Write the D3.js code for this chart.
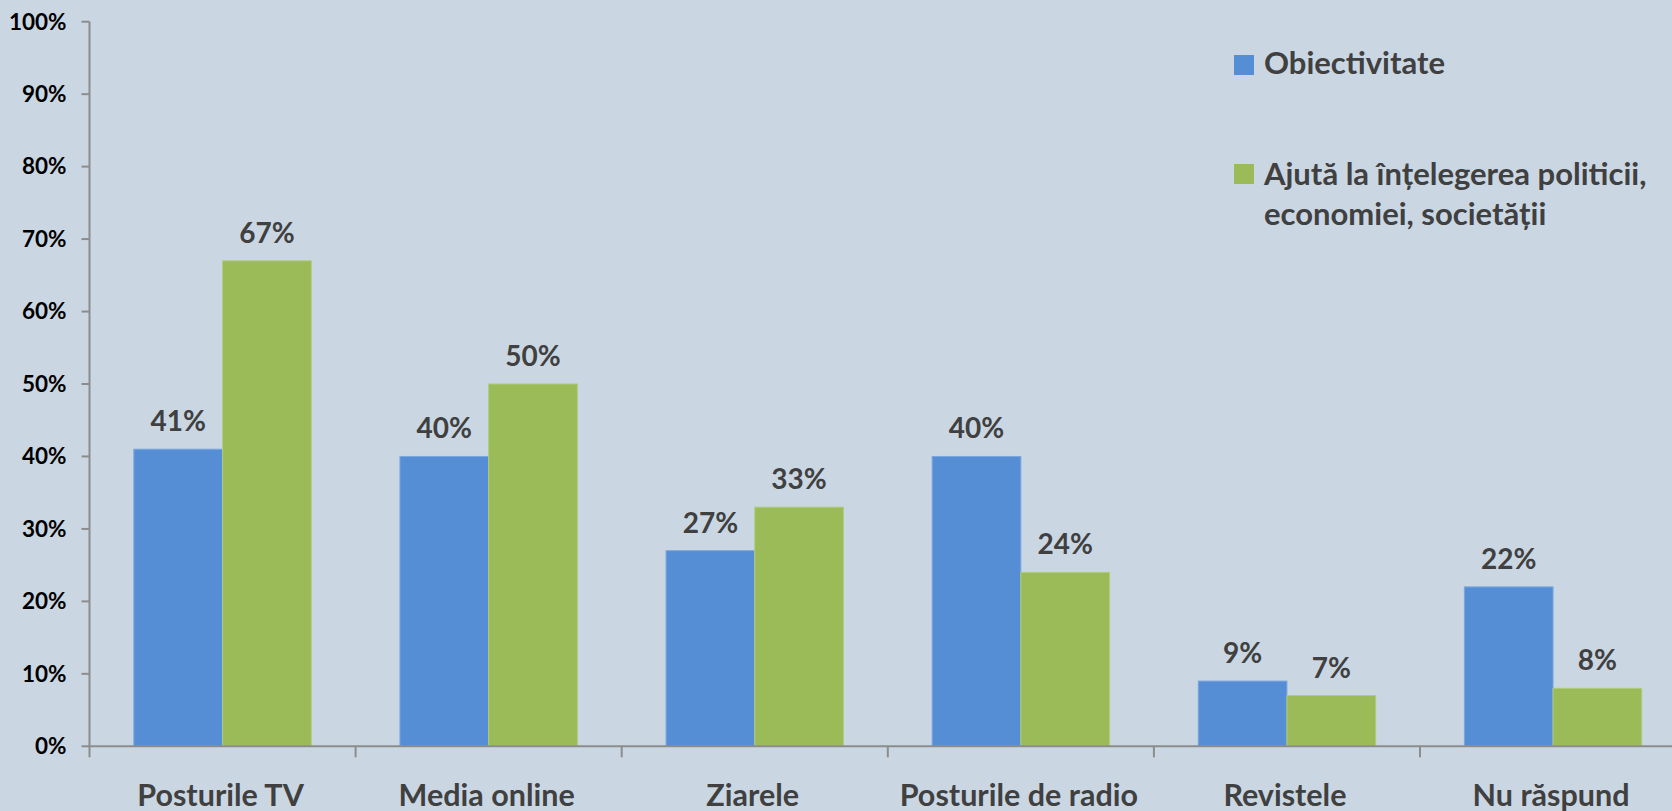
<!DOCTYPE html>
<html>
<head>
<meta charset="utf-8">
<script src="https://cdn.jsdelivr.net/npm/d3@7"></script>
<style>
  body { margin: 0; background: #cad7e3; }
  svg { display: block; font-family: Lato, "Open Sans", sans-serif; font-weight: bold; }
</style>
</head>
<body>
<script>
const categories = ["Posturile TV", "Media online", "Ziarele", "Posturile de radio", "Revistele", "Nu răspund"]
const seriesNames = ["Obiectivitate", "Ajută la înțelegerea politicii, economiei, societății"]
const objectivitate = [41, 40, 27, 40, 9, 22]
const intelegere = [67, 50, 33, 24, 7, 8]
const yTicks = [0, 10, 20, 30, 40, 50, 60, 70, 80, 90, 100]

const width = 1672
const height = 811
const colors = ["#558ed5", "#9bbb59"]
const edge = ["#7ba7df", "#b0cb7b"]

const x0 = 89.5
const bandW = 266.1
const yBottom = 746.3
const yTop = 21.7

const svg = d3.select("body").append("svg").attr("width", width).attr("height", height)

const scaleX = d3.scaleBand()
  .domain(categories)
  .range([x0, x0 + bandW * categories.length])

const scaleSub = d3.scaleBand()
  .domain([0, 1])
  .range([0, scaleX.bandwidth()])
  .paddingOuter(0.5)

const scaleY = d3.scaleLinear().domain([0, 100]).range([yBottom, yTop])

// y axis ticks + labels
yTicks.forEach(t => {
  const g = svg.append("g").attr("transform", `translate(0,${scaleY(t)})`)
  g.append("line").attr("x1", x0 - 8).attr("x2", x0).style("stroke", "#8c8c8c").style("stroke-width", 2)
  g.append("text").text(t + "%")
    .attr("x", x0 - 23).attr("dy", "0.35em")
    .attr("text-anchor", "end")
    .style("font-size", "22.5px").style("fill", "#000")
})

// bars
const rows = categories.map((c, i) => ({ cat: c, vals: [objectivitate[i], intelegere[i]] }))

const groups = svg.selectAll(".grp").data(rows).join("g")
  .attr("transform", d => `translate(${scaleX(d.cat)},0)`)

groups.selectAll("rect").data(d => d.vals.map((v, k) => ({ v, k }))).join("rect")
  .attr("x", d => scaleSub(d.k))
  .attr("width", scaleSub.bandwidth())
  .attr("y", d => scaleY(d.v))
  .attr("height", d => scaleY(0) - scaleY(d.v))
  .style("fill", d => colors[d.k])
  .style("stroke", d => edge[d.k])
  .style("stroke-width", 1)

groups.selectAll(".val").data(d => d.vals.map((v, k) => ({ v, k }))).join("text")
  .attr("class", "val")
  .text(d => d.v + "%")
  .attr("x", d => scaleSub(d.k) + scaleSub.bandwidth() / 2)
  .attr("y", d => scaleY(d.v) - 18)
  .attr("text-anchor", "middle")
  .style("font-size", "28px").style("fill", "#404040")

// axes lines
svg.append("line").attr("x1", x0).attr("x2", x0).attr("y1", yTop).attr("y2", yBottom + 11)
  .style("stroke", "#8c8c8c").style("stroke-width", 2)
svg.append("line").attr("x1", x0).attr("x2", width).attr("y1", yBottom).attr("y2", yBottom)
  .style("stroke", "#8c8c8c").style("stroke-width", 2)

categories.forEach((c, i) => {
  if (i > 0) {
    svg.append("line").attr("x1", scaleX(c)).attr("x2", scaleX(c))
      .attr("y1", yBottom).attr("y2", yBottom + 11)
      .style("stroke", "#8c8c8c").style("stroke-width", 2)
  }
  svg.append("text").text(c)
    .attr("x", scaleX(c) + scaleX.bandwidth() / 2 - 2)
    .attr("y", 806)
    .attr("text-anchor", "middle")
    .style("font-size", "30.5px").style("fill", "#404040")
})

// legend
const legend = svg.append("g").attr("transform", "translate(1234,0)")
legend.append("rect").attr("x", 0).attr("y", 55).attr("width", 20).attr("height", 20).style("fill", colors[0])
legend.append("text").text(seriesNames[0]).attr("x", 30).attr("y", 74)
  .style("font-size", "31px").style("fill", "#404040")
legend.append("rect").attr("x", 0).attr("y", 164).attr("width", 20).attr("height", 20).style("fill", colors[1])
const lt = legend.append("text").attr("x", 30).attr("y", 185)
  .style("font-size", "31px").style("fill", "#404040")
lt.append("tspan").text("Ajută la înțelegerea politicii,").attr("x", 30)
lt.append("tspan").text("economiei, societății").attr("x", 30).attr("dy", 40)
</script>
</body>
</html>
